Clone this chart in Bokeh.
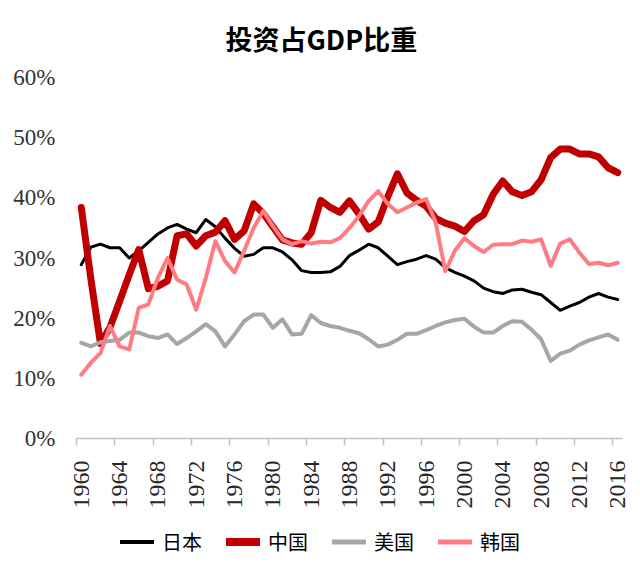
import math
from bokeh.plotting import figure
from bokeh.layouts import column
from bokeh.models import Range1d, FixedTicker, PrintfTickFormatter, Legend, LegendItem
from bokeh.embed import file_html
from bokeh.resources import INLINE

# ---------------- data (investment as % of GDP) ----------------
years = list(range(1960, 2017))

japan = [28.9, 31.8, 32.3, 31.7, 31.7, 30.0, 31.2, 32.6, 34.0, 35.0,
         35.6, 34.8, 34.2, 36.4, 35.2, 33.3, 31.6, 30.3, 30.6, 31.7,
         31.7, 31.0, 29.7, 27.9, 27.6, 27.6, 27.7, 28.6, 30.4, 31.3,
         32.3, 31.7, 30.3, 28.9, 29.4, 29.8, 30.4, 29.8, 28.4, 27.6,
         27.0, 26.2, 25.0, 24.4, 24.1, 24.7, 24.8, 24.3, 23.9, 22.6,
         21.3, 22.0, 22.6, 23.5, 24.1, 23.5, 23.1]

china = [38.4, 26.5, 15.8, 18.5, 22.8, 27.2, 31.4, 24.9, 25.3, 26.2,
         33.7, 34.0, 32.0, 33.7, 34.3, 36.2, 33.1, 34.5, 39.0, 37.4,
         35.2, 33.0, 32.5, 32.3, 34.2, 39.6, 38.4, 37.6, 39.5, 37.3,
         34.8, 36.0, 40.2, 44.0, 40.8, 39.6, 38.6, 36.6, 35.8, 35.3,
         34.4, 36.2, 37.2, 40.6, 42.8, 41.0, 40.4, 41.0, 43.0, 46.7,
         48.1, 48.1, 47.3, 47.3, 46.8, 45.0, 44.2]

usa = [15.9, 15.3, 16.0, 16.2, 16.4, 17.6, 17.6, 17.0, 16.7, 17.3,
       15.7, 16.7, 17.8, 19.0, 17.8, 15.3, 17.3, 19.5, 20.6, 20.6,
       18.4, 19.8, 17.3, 17.4, 20.5, 19.2, 18.7, 18.4, 17.9, 17.5,
       16.5, 15.3, 15.6, 16.4, 17.4, 17.4, 18.0, 18.7, 19.3, 19.7,
       19.9, 18.6, 17.6, 17.6, 18.7, 19.5, 19.4, 18.1, 16.5, 12.9,
       14.1, 14.6, 15.6, 16.3, 16.8, 17.3, 16.4]

korea = [10.6, 12.6, 14.2, 18.7, 15.3, 14.8, 21.7, 22.3, 26.7, 30.0,
         26.4, 25.6, 21.4, 26.7, 32.8, 29.5, 27.6, 31.2, 35.0, 37.8,
         35.3, 33.1, 32.3, 32.8, 32.4, 32.7, 32.6, 33.3, 35.0, 37.0,
         39.5, 41.1, 39.0, 37.6, 38.4, 39.2, 39.8, 35.9, 27.8, 31.2,
         33.3, 32.0, 31.0, 32.2, 32.3, 32.3, 32.9, 32.7, 33.1, 28.7,
         32.4, 33.1, 30.9, 29.0, 29.2, 28.8, 29.2]

series_names = ["日本", "中国", "美国", "韩国"]
tick_years = list(range(1960, 2017, 4))
y_ticks = [0, 10, 20, 30, 40, 50, 60]
title_text = "投资占GDP比重"

# ---------------- styling ----------------
colors = ["#000000", "#C00000", "#A6A6A6", "#FF7C80"]
widths = [3, 7, 4, 4]
legend_widths = [4, 8, 5, 5]
NUM_FONT = "Liberation Serif"
CJK_FONT = "Noto Sans CJK SC"

p = figure(width=636, height=515, output_backend="svg", toolbar_location=None,
           x_range=Range1d(years[0] - 0.5, years[-1] + 0.5),
           y_range=Range1d(y_ticks[0], y_ticks[-1]),
           min_border_left=76, min_border_right=14,
           min_border_top=77, min_border_bottom=77,
           outline_line_color=None,
           background_fill_color="white", border_fill_color="white")

p.xgrid.visible = False
p.ygrid.visible = False

# title
p.title.text = title_text
p.title.text_font = CJK_FONT
p.title.text_font_size = "27px"
p.title.text_font_style = "bold"
p.title.text_color = "#000000"
p.title.align = "left"
p.title.vertical_align = "top"
p.title.offset = 149
p.title.standoff = 36

series = [japan, china, usa, korea]
for vals, c, w in zip(series, colors, widths):
    p.line(years, vals, line_color=c, line_width=w,
           line_join="round", line_cap="round")

# x axis
xa = p.xaxis[0]
xa.ticker = FixedTicker(ticks=tick_years, minor_ticks=[t - 0.5 for t in tick_years])
xa.major_label_orientation = math.pi / 2
xa.axis_line_color = "#BFBFBF"
xa.axis_line_width = 1.5
xa.major_tick_line_color = None
xa.major_tick_out = 0
xa.major_tick_in = 0
xa.minor_tick_line_color = "#BFBFBF"
xa.minor_tick_line_width = 1.5
xa.minor_tick_out = 7
xa.minor_tick_in = 0
xa.major_label_standoff = 15
xa.major_label_text_font = NUM_FONT
xa.major_label_text_font_size = "24px"
xa.major_label_text_color = "#262626"

# y axis
ya = p.yaxis[0]
ya.ticker = FixedTicker(ticks=y_ticks)
ya.formatter = PrintfTickFormatter(format="%d%%")
ya.axis_line_color = None
ya.major_tick_line_color = None
ya.minor_tick_line_color = None
ya.major_tick_out = 0
ya.major_tick_in = 0
ya.major_label_standoff = 21
ya.major_label_text_font = NUM_FONT
ya.major_label_text_font_size = "23px"
ya.major_label_text_color = "#333333"

# legend strip below the chart (its own small plot; series drawn out of view)
pl = figure(width=636, height=52, output_backend="svg", toolbar_location=None,
            x_range=Range1d(0, 1), y_range=Range1d(0, 1),
            x_axis_location=None, y_axis_location=None, title=None,
            min_border_left=76, min_border_right=14,
            min_border_top=0, min_border_bottom=0,
            outline_line_color=None,
            background_fill_color="white", border_fill_color="white")
pl.xgrid.visible = False
pl.ygrid.visible = False
legend_renderers = [pl.line(years, vals, line_color=c, line_width=w, line_cap="round")
                    for vals, c, w in zip(series, colors, legend_widths)]
items = [LegendItem(label=n, renderers=[r]) for n, r in zip(series_names, legend_renderers)]
legend = Legend(items=items, orientation="horizontal", location="center_left",
                glyph_width=34, glyph_height=20, label_standoff=8, spacing=19,
                label_width=45, padding=0, margin=44,
                border_line_color=None, background_fill_alpha=0,
                label_text_font=CJK_FONT, label_text_font_size="20px",
                label_text_color="#000000")
pl.add_layout(legend, "center")

layout = column(p, pl, spacing=0)

with open("out.html", "w", encoding="utf-8") as f:
    f.write(file_html(layout, INLINE, title_text))
